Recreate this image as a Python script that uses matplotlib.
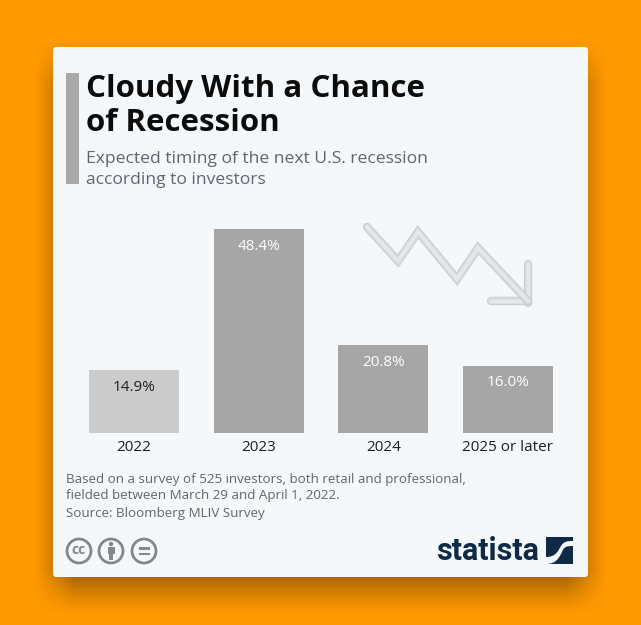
import numpy as np
import matplotlib
matplotlib.use("Agg")
import matplotlib.pyplot as plt
from matplotlib.patches import FancyBboxPatch, Rectangle, Circle, PathPatch
from matplotlib.path import Path
import matplotlib.patheffects as pe

categories = ["2022", "2023", "2024", "2025 or later"]
values = [14.9, 48.4, 20.8, 16.0]
value_labels = ["14.9%", "48.4%", "20.8%", "16.0%"]
bar_colors = ["#CBCBCB", "#A6A6A6", "#A6A6A6", "#A6A6A6"]
label_colors = ["#222222", "#FFFFFF", "#FFFFFF", "#FFFFFF"]
title_lines = ["Cloudy With a Chance", "of Recession"]
subtitle_lines = ["Expected timing of the next U.S. recession", "according to investors"]
note_lines = ["Based on a survey of 525 investors, both retail and professional,",
              "fielded between March 29 and April 1, 2022."]
source_line = "Source: Bloomberg MLIV Survey"

W, H = 641, 625
FONT = "Open Sans"
plt.rcParams["font.family"] = [FONT, "DejaVu Sans"]
fig = plt.figure(figsize=(W / 100, H / 100), dpi=100, facecolor="#FF9900")

# Background layer in pixel coordinates
bg = fig.add_axes([0, 0, 1, 1], zorder=0)
bg.set_xlim(0, W); bg.set_ylim(H, 0); bg.axis("off")

# Soft shadow of the card
yy, xx = np.mgrid[0:H, 0:W]
def soft(v, a, b, s):
    return np.clip((v - a) / s + .5, 0, 1) * np.clip((b - v) / s + .5, 0, 1)
mask = soft(xx + .5, 53, 588, 40) * soft(yy + .5, 62, 592, 44)
shadow = np.zeros((H, W, 4))
shadow[..., 3] = 0.40 * mask ** 1.2
bg.imshow(shadow, extent=(0, W, H, 0), aspect="auto", zorder=1, interpolation="bilinear")
bg.set_xlim(0, W); bg.set_ylim(H, 0)

bg.add_patch(FancyBboxPatch((55, 49), 531, 526, boxstyle="round,pad=2,rounding_size=3",
                            fc="#F4F8FB", ec="none", zorder=2))
bg.add_patch(Rectangle((66, 73), 13, 111, fc="#A9A9A9", ec="none", zorder=3))

for txt, y in zip(title_lines, (89, 123)):
    bg.text(86, y, txt, fontsize=22.5, fontweight="bold", color="#0B0B0B", va="center", ha="left", zorder=4)
for txt, y in zip(subtitle_lines, (159, 180)):
    bg.text(86, y, txt, fontsize=12.6, color="#5F666E", va="center", ha="left", zorder=4)
for txt, y in zip(note_lines, (479.5, 495.5)):
    bg.text(66, y, txt, fontsize=9.6, color="#5F666E", va="center", ha="left", zorder=4)
bg.text(66, 514, source_line, fontsize=9.6, color="#5F666E", va="center", ha="left", zorder=4)

# Decorative falling arrow
arrow_line = [(367, 227), (398, 261), (418, 232), (457, 279), (478, 248), (528, 301)]
arrow_v = [(528, 264), (528, 303)]
arrow_h = [(491, 301), (528, 301)]
for pts in (arrow_v, arrow_h, arrow_line):
    xs, ys = zip(*pts)
    bg.plot(xs, ys, color="#E6E7E8", lw=2.5, solid_capstyle="round", solid_joinstyle="miter", zorder=3,
            path_effects=[pe.Stroke(linewidth=6, foreground="#C9CBCD"),
                          pe.Stroke(linewidth=4.6, foreground="#DADBDD"),
                          pe.Normal()])

# Licence icons
ICON = "#85888B"
for cx in (79, 111, 144):
    bg.add_patch(Circle((cx, 551), 12, fc="none", ec=ICON, lw=2.0, zorder=4))
bg.text(79, 550.5, "cc", fontsize=10, fontweight="bold", color=ICON, ha="center", va="center", zorder=5)
bg.add_patch(Circle((111, 544), 2.2, fc=ICON, ec="none", zorder=5))
bg.add_patch(Rectangle((107.5, 547), 7, 7, fc=ICON, ec="none", zorder=5))
bg.add_patch(Rectangle((109, 554), 4, 6, fc=ICON, ec="none", zorder=5))
bg.add_patch(Rectangle((138.5, 547), 11, 2.6, fc=ICON, ec="none", zorder=5))
bg.add_patch(Rectangle((138.5, 552.5), 11, 2.6, fc=ICON, ec="none", zorder=5))

# Statista brand
NAVY = "#0F2A47"
bg.text(539, 551, "statista", family=["Roboto"], fontsize=22, fontweight="bold",
        color=NAVY, ha="right", va="center", zorder=4)
bg.add_patch(Rectangle((546, 537), 27, 27, fc=NAVY, ec="none", zorder=4))
swoosh = Path([(546, 557), (556, 557), (558, 551), (561, 546), (564, 541), (568, 541), (573, 541),
               (573, 546), (573, 546), (568, 546), (564, 546), (562, 552), (559, 558), (556, 564), (546, 564), (546, 564), (546, 557)],
              [Path.MOVETO, Path.CURVE4, Path.CURVE4, Path.CURVE4, Path.CURVE4, Path.CURVE4, Path.CURVE4,
               Path.LINETO, Path.LINETO, Path.CURVE4, Path.CURVE4, Path.CURVE4, Path.CURVE4, Path.CURVE4, Path.CURVE4, Path.LINETO, Path.CLOSEPOLY])
bg.add_patch(PathPatch(swoosh, fc="#F4F8FB", ec="none", zorder=5))

# Chart
ax = fig.add_axes([71.7 / W, (H - 433) / H, 498.6 / W, 210.75 / H], zorder=1)
ax.patch.set_alpha(0)
x = np.arange(len(categories))
ax.bar(x, values, width=0.722, color=bar_colors)
ax.set_xlim(-0.5, 3.5); ax.set_ylim(0, 50)
ax.set_xticks(x, categories)
ax.set_yticks([])
ax.tick_params(axis="x", length=0, pad=5, labelsize=11, labelcolor="#1E1E1E")
for s in ax.spines.values():
    s.set_visible(False)
for xi, v, lab, c in zip(x, values, value_labels, label_colors):
    ax.annotate(lab, (xi, v), xytext=(0, -12.5), textcoords="offset points", ha="center", va="center",
                fontsize=11, color=c)

fig.savefig("out.png", dpi=100, facecolor=fig.get_facecolor())
